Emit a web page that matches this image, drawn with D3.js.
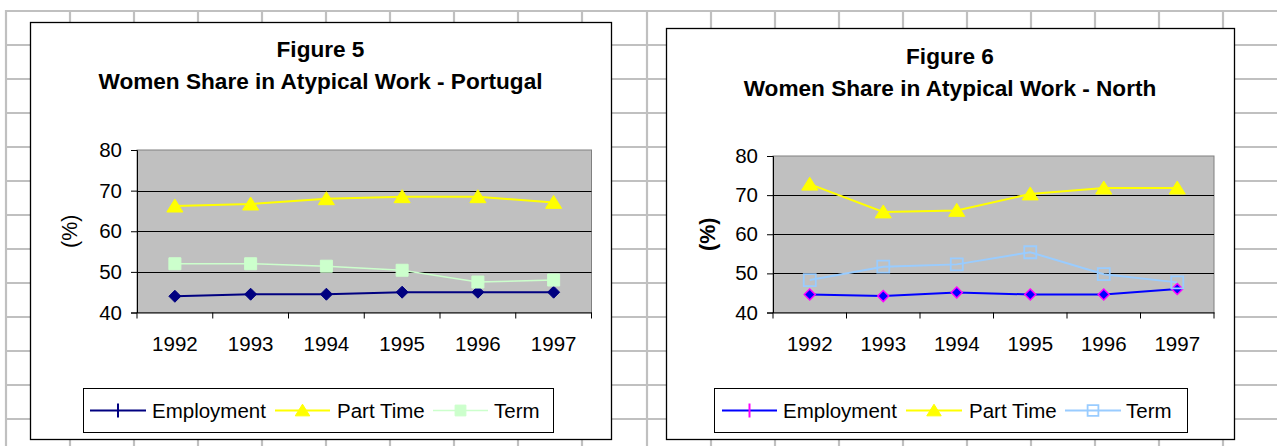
<!DOCTYPE html>
<html>
<head>
<meta charset="utf-8">
<script src="https://cdn.jsdelivr.net/npm/d3@7"></script>
<style>
  html, body { margin: 0; padding: 0; background: #ffffff; }
  svg { display: block; }
  text { font-family: "Liberation Sans", Arial, sans-serif; fill: #000; }
</style>
</head>
<body>
<svg id="chart" width="1277" height="446"></svg>
<script>
// ---------- data ----------
const years = ["1992", "1993", "1994", "1995", "1996", "1997"];
const yTicks = [40, 50, 60, 70, 80];
const seriesNames = ["Employment", "Part Time", "Term"];

const portugalEmployment = [44.0, 44.5, 44.5, 45.0, 45.0, 45.0];
const portugalPartTime   = [66.2, 66.7, 68.0, 68.5, 68.5, 67.1];
const portugalTerm       = [52.0, 52.0, 51.4, 50.4, 47.5, 48.0];

const northEmployment = [44.6, 44.2, 45.1, 44.6, 44.6, 46.0];
const northPartTime   = [72.8, 65.7, 66.1, 70.3, 71.8, 71.8];
const northTerm       = [48.3, 51.7, 52.3, 55.4, 49.8, 47.7];

const titles5 = ["Figure 5", "Women Share in Atypical Work - Portugal"];
const titles6 = ["Figure 6", "Women Share in Atypical Work - North"];
const yLabel = "(%)";

// ---------- page ----------
const svg = d3.select("#chart");

// spreadsheet grid background
const grid = svg.append("g").attr("stroke", "#c0c0c0").attr("stroke-width", 2.2);
const rowYs = d3.range(0, 13).map(i => 11 + i * 34);
rowYs.forEach(y => grid.append("line").attr("x1", 5).attr("x2", 1277).attr("y1", y).attr("y2", y));
d3.range(0, 10).map(i => 6 + i * 64).forEach(x =>
  grid.append("line").attr("x1", x).attr("x2", x).attr("y1", 10).attr("y2", 446));
d3.range(0, 10).map(i => 647 + i * 64).forEach(x =>
  grid.append("line").attr("x1", x).attr("x2", x).attr("y1", 10).attr("y2", 446));

function markerPath(type, s) {
  if (type === "diamond") return `M0,${-s}L${s},0L0,${s}L${-s},0Z`;
  if (type === "triangle") return `M0,${-s}L${s * 1.15},${s * 0.85}L${-s * 1.15},${s * 0.85}Z`;
  if (type === "square") return `M${-s},${-s}H${s}V${s}H${-s}Z`;
  return "";
}

const FS = 20.5;

function drawChart(cfg) {
  const g = svg.append("g");
  // chart frame
  g.append("rect").attr("x", cfg.box[0] + 0.5).attr("y", cfg.box[1] + 0.5)
    .attr("width", cfg.box[2] - cfg.box[0]).attr("height", cfg.box[3] - cfg.box[1])
    .attr("fill", "#fff").attr("stroke", "#000").attr("stroke-width", 1.3);

  const cx = (cfg.box[0] + cfg.box[2]) / 2;
  g.append("text").attr("x", cx).attr("y", cfg.titleY[0]).attr("text-anchor", "middle")
    .attr("font-weight", "bold").attr("font-size", 22.6).text(cfg.titles[0]);
  g.append("text").attr("x", cx).attr("y", cfg.titleY[1]).attr("text-anchor", "middle")
    .attr("font-weight", "bold").attr("font-size", 22.6).text(cfg.titles[1]);

  const p = cfg.plot; // [x0,y0,x1,y1]
  const x = d3.scaleBand().domain(years).range([p[0], p[2]]);
  const y = d3.scaleLinear().domain([40, 80]).range([p[3], p[1]]);

  g.append("rect").attr("x", p[0]).attr("y", p[1]).attr("width", p[2] - p[0]).attr("height", p[3] - p[1])
    .attr("fill", "#c0c0c0").attr("stroke", "#808080").attr("stroke-width", 1);

  // gridlines
  g.append("g").selectAll("line").data(yTicks.filter(t => t > 40 && t < 80)).join("line")
    .attr("x1", p[0]).attr("x2", p[2]).attr("y1", d => Math.round(y(d)) + 0.5).attr("y2", d => Math.round(y(d)) + 0.5)
    .attr("stroke", "#000").attr("stroke-width", 1);

  // y axis
  const ya = g.append("g").attr("transform", `translate(${p[0]},0)`)
    .call(d3.axisLeft(y).tickValues(yTicks).tickSize(6).tickPadding(9));
  ya.select(".domain").attr("stroke", "#000");
  ya.selectAll(".tick line").attr("stroke", "#000");
  ya.selectAll("text").attr("font-size", FS).attr("font-family", "Liberation Sans, Arial, sans-serif").attr("fill", "#000");

  // x axis: labels at band centers, ticks at band edges
  const xa = g.append("g").attr("transform", `translate(0,${p[3]})`)
    .call(d3.axisBottom(x).tickSize(0).tickPadding(24));
  xa.select(".domain").attr("stroke", "#000");
  xa.selectAll("text").attr("font-size", FS).attr("font-family", "Liberation Sans, Arial, sans-serif").attr("fill", "#000");
  const edges = years.map(c => x(c)).concat([x(years[years.length - 1]) + x.bandwidth()]);
  g.append("g").selectAll("line").data(edges).join("line")
    .attr("x1", d => d).attr("x2", d => d).attr("y1", p[3]).attr("y2", p[3] + 6)
    .attr("stroke", "#000");

  // y label
  g.append("text").attr("transform", `translate(${cfg.yLabelX},${(p[1] + p[3]) / 2}) rotate(-90)`)
    .attr("text-anchor", "middle").attr("dominant-baseline", "central")
    .attr("font-size", 21.5).attr("font-weight", cfg.yLabelBold ? "bold" : "normal").text(yLabel);

  // series
  cfg.series.forEach(s => {
    const pts = s.values.map((v, i) => [x(years[i]) + x.bandwidth() / 2, y(v)]);
    g.append("path").attr("d", d3.line()(pts)).attr("fill", "none")
      .attr("stroke", s.line).attr("stroke-width", s.lw);
    g.append("g").selectAll("path").data(pts).join("path")
      .attr("transform", d => `translate(${d[0]},${d[1]})`)
      .attr("d", markerPath(s.marker, s.ms))
      .attr("fill", s.fill).attr("stroke", s.stroke).attr("stroke-width", s.sw);
  });

  // legend
  const L = cfg.legend;
  g.append("rect").attr("x", L.box[0] + 0.5).attr("y", L.box[1] + 0.5)
    .attr("width", L.box[2] - L.box[0]).attr("height", L.box[3] - L.box[1])
    .attr("fill", "#fff").attr("stroke", "#000").attr("stroke-width", 1);
  const ly = (L.box[1] + L.box[3]) / 2 + 0.5;
  cfg.series.forEach((s, i) => {
    const it = L.items[i];
    g.append("line").attr("x1", it[0]).attr("x2", it[1]).attr("y1", ly).attr("y2", ly)
      .attr("stroke", s.line).attr("stroke-width", s.lw);
    const mx = (it[0] + it[1]) / 2;
    if (s.marker === "diamond") {
      g.append("line").attr("x1", mx).attr("x2", mx).attr("y1", ly - 7).attr("y2", ly + 7)
        .attr("stroke", s.legendTick).attr("stroke-width", 2);
    } else {
      g.append("path").attr("transform", `translate(${mx},${ly})`)
        .attr("d", markerPath(s.marker, s.ms * 0.9))
        .attr("fill", s.fill).attr("stroke", s.stroke).attr("stroke-width", s.sw);
    }
    g.append("text").attr("x", it[2]).attr("y", ly).attr("dominant-baseline", "central")
      .attr("font-size", FS).text(seriesNames[i]);
  });
}

drawChart({
  box: [30, 22, 611, 439],
  titles: titles5,
  titleY: [57, 89],
  plot: [137, 150, 591.5, 312.5],
  yLabelX: 70,
  yLabelBold: false,
  series: [
    { values: portugalEmployment, line: "#000080", lw: 2, marker: "diamond", ms: 6, fill: "#000080", stroke: "#000080", sw: 1, legendTick: "#000080" },
    { values: portugalPartTime, line: "#ffff00", lw: 2, marker: "triangle", ms: 7, fill: "#ffff00", stroke: "#ffff00", sw: 1 },
    { values: portugalTerm, line: "#ccffcc", lw: 1.5, marker: "square", ms: 6, fill: "#ccffcc", stroke: "#ccffcc", sw: 1 }
  ],
  legend: { box: [83, 388, 553, 432], items: [[90, 146, 152], [275, 330, 337], [433, 488, 494]] }
});

drawChart({
  box: [666, 28, 1234, 439],
  titles: titles6,
  titleY: [64, 96],
  plot: [773, 156, 1214, 312.5],
  yLabelX: 708,
  yLabelBold: true,
  series: [
    { values: northEmployment, line: "#0000ff", lw: 2, marker: "diamond", ms: 5.5, fill: "#0000ff", stroke: "#ff00ff", sw: 1.5, legendTick: "#ff00ff" },
    { values: northPartTime, line: "#ffff00", lw: 2, marker: "triangle", ms: 7, fill: "#ffff00", stroke: "#ffff00", sw: 1 },
    { values: northTerm, line: "#99ccff", lw: 2, marker: "square", ms: 6, fill: "none", stroke: "#99ccff", sw: 1.8 }
  ],
  legend: { box: [714, 388, 1187, 432], items: [[722, 777, 783], [906, 962, 969], [1065, 1121, 1126]] }
});
</script>
</body>
</html>
